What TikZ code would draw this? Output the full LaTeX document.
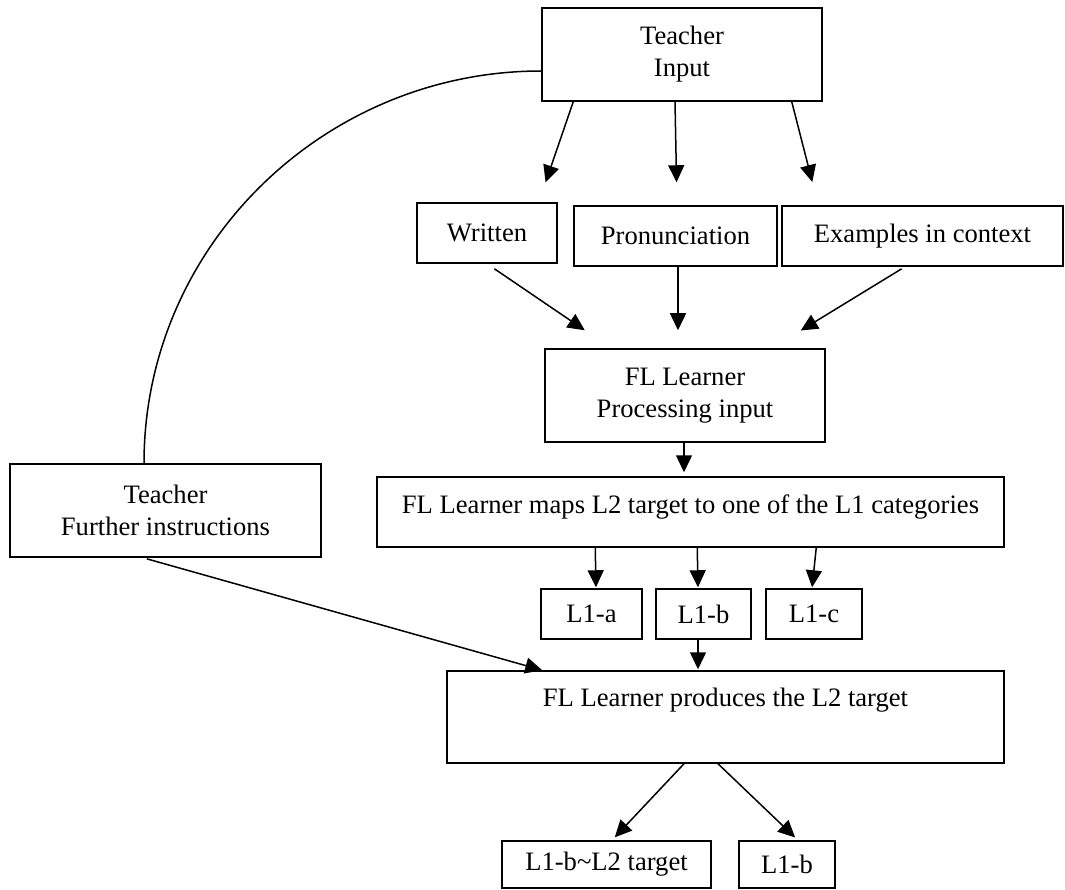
\documentclass[tikz,border=0pt]{standalone}
\usepackage{fontspec}
\setmainfont{Liberation Serif}
\usetikzlibrary{arrows.meta,calc}
\begin{document}
\begin{tikzpicture}[x=1pt,y=-1pt,
  box/.style={draw, line width=1.5pt, inner sep=0pt, align=center, font=\fontsize{26.6}{32}\selectfont},
  arr/.style={line width=1.5pt, -{Triangle[length=17pt,width=16pt]}},
  ln/.style={line width=1.5pt}]
\useasboundingbox (0,0) rectangle (1065,890);
% nodes
\node[box, minimum width=280pt, minimum height=93pt] (tin) at (682,54.5) {Teacher\\Input};
\node[box, minimum width=140pt, minimum height=60pt] (wr) at (487,233) {Written};
\node[box, minimum width=203pt, minimum height=60pt] (pr) at (675.5,236) {Pronunciation};
\node[box, minimum width=281pt, minimum height=60pt] (ex) at (922.5,236) {Examples in context};
\node[box, minimum width=280pt, minimum height=93pt] (fl) at (685,395.5) {FL Learner\\Processing input};
\node[box, minimum width=627pt, text height=36pt, text depth=34pt, anchor=base] (maps) at (690.5,513) {FL Learner maps L2 target to one of the L1 categories};
\node[box, minimum width=101pt, minimum height=50pt] (l1a) at (591.5,614) {L1-a};
\node[box, minimum width=95pt, minimum height=50pt] (l1b) at (703.5,614) {L1-b};
\node[box, minimum width=96pt, minimum height=50pt] (l1c) at (814,614) {L1-c};
\node[box, minimum width=557pt, text height=35pt, text depth=57pt, anchor=base] (prod) at (725.5,706) {FL Learner produces the L2 target};
\node[box, minimum width=311pt, minimum height=93pt] (tfi) at (165.5,510.5) {Teacher\\Further instructions};
\node[box, minimum width=209pt, minimum height=47pt] (bt1) at (606.5,864.5) {L1-b\textasciitilde L2 target};
\node[box, minimum width=96pt, minimum height=47pt] (bt2) at (787,864.5) {L1-b};
% arrows from teacher input
\draw[arr, shorten >=21pt] ($(tin.south west)+(32,0)$) -- ($(wr.north east)+(-19,0)$);
\draw[arr, shorten >=23pt] ($(tin.south)+(-7,0)$) -- ($(pr.north)+(1.5,0)$);
\draw[arr, shorten >=24pt] ($(tin.south east)+(-31,0)$) -- ($(ex.north west)+(37,0)$);
% arrows into FL learner
\draw[arr, shorten <=9pt, shorten >=32pt] ($(wr.south)+(0,0)$) -- ($(fl.north west)+(67,0)$);
\draw[arr, shorten >=18pt] ($(pr.south)+(2.5,0)$) -- ($(fl.north)+(-7,0)$);
\draw[arr, shorten <=4pt, shorten >=34pt] ($(ex.south)+(-17.5,0)$) -- ($(fl.north east)+(-54,0)$);
% FL -> maps
\draw[arr, shorten >=4pt] ($(fl.south)+(-1,0)$) -- ($(maps.north)+(-6.5,0)$);
% maps -> L1
\draw[arr, shorten >=1pt] ($(maps.south west)+(219,0)$) -- ($(l1a.north)+(4.5,0)$);
\draw[arr, shorten >=1pt] ($(maps.south west)+(321,0)$) -- ($(l1b.north)+(-5.5,0)$);
\draw[arr, shorten >=1pt] ($(maps.south west)+(440,0)$) -- ($(l1c.north)+(-2,0)$);
% L1-b -> produces
\draw[arr, shorten >=1pt] ($(l1b.south)+(-5.5,0)$) -- ($(l1b.south |- prod.north)+(-5.5,0)$);
% teacher further -> produces
\draw[arr, shorten <=4pt] ($(tfi.south)+(-22.5,0)$) -- ($(prod.north west)+(96,0)$);
% produces -> bottom boxes
\draw[arr, shorten >=4pt] ($(prod.south)+(-41.5,0)$) -- ($(bt1.north)+(5.5,0)$);
\draw[arr, shorten >=4pt] ($(prod.south)+(-7.5,0)$) -- ($(bt2.north)+(11,0)$);
% curve from teacher input to teacher further instructions
\draw[ln] ($(tin.west)+(0,16.5)$) .. controls (324,71) and (144,246) .. ($(tfi.north)+(-21.5,0)$);
\end{tikzpicture}
\end{document}
